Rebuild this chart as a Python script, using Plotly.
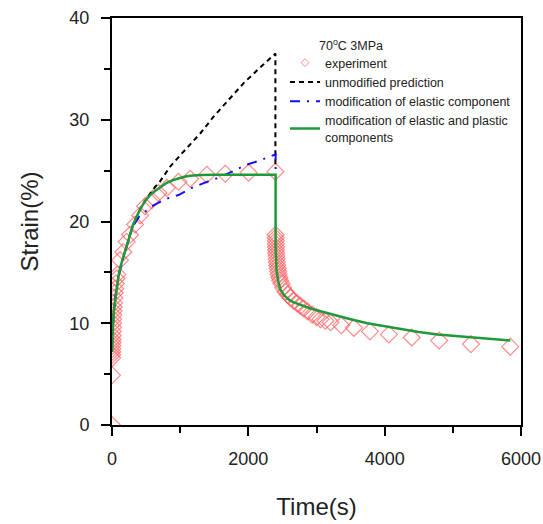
import plotly.graph_objects as go

# Experiment data
exp_t = [0, 0, 2, 3, 4, 5, 6, 7, 8, 10, 12, 14, 16, 18, 20, 23, 26, 30, 35, 40, 48, 56, 66, 78,
         118, 167, 215, 265, 338, 412, 485, 583, 681, 804, 975, 1147, 1392, 1662, 2004, 2397,
         2400, 2401, 2402, 2403, 2405, 2407, 2409, 2412, 2415, 2419, 2424, 2430, 2437, 2445, 2455,
         2466, 2485, 2510, 2545, 2580, 2618, 2665, 2716, 2765, 2813, 2870, 2936, 3000, 3059, 3130,
         3206, 3363, 3549, 3785, 4063, 4397, 4799, 5265, 5843]
exp_s = [0, 4.9, 6.6, 6.9, 7.2, 7.5, 7.8, 8.1, 8.4, 8.8, 9.2, 9.6, 10.0, 10.4, 10.8, 11.2, 11.6, 12.0, 12.5, 13.0, 13.4, 13.9, 14.4, 14.8,
         16.2, 17.0, 18.0, 18.7, 19.7, 20.6, 21.5, 22.1, 22.8, 23.3, 23.9, 24.2, 24.6, 24.7, 24.8, 24.9,
         18.7, 18.4, 18.1, 17.8, 17.5, 17.2, 16.9, 16.6, 16.3, 16.0, 15.7, 15.4, 15.1, 14.8, 14.5,
         14.2, 13.9, 13.5, 13.1, 12.8, 12.5, 12.2, 11.95, 11.7, 11.45, 11.15, 10.85, 10.6, 10.4, 10.25,
         10.1, 9.8, 9.55, 9.2, 8.9, 8.6, 8.3, 7.95, 7.7]

# Unmodified prediction
unmod_t = [0, 10, 29, 60, 93, 130, 167, 215, 265, 310, 363, 420, 485, 560, 632, 700, 755, 853, 1000, 1122, 1300, 1490, 1700, 1931, 2150, 2397, 2397]
unmod_s = [7.2, 9.5, 11.3, 13.2, 14.6, 15.7, 16.5, 17.7, 18.85, 19.7, 20.5, 21.3, 22.0, 22.7, 23.4, 23.9, 24.4, 25.4, 26.5, 27.4, 28.7, 30.3, 31.9, 33.6, 35.0, 36.5, 25.5]

# Modification of elastic component
elas_t = [0, 10, 29, 60, 93, 130, 167, 250, 314, 400, 500, 583, 700, 828, 975, 1172, 1392, 1539, 1760, 1980, 2128, 2348, 2400, 2400]
elas_s = [7.2, 9.5, 11.3, 13.2, 14.5, 15.6, 16.5, 18.3, 19.6, 20.5, 21.1, 21.5, 21.9, 22.3, 22.6, 23.3, 23.9, 24.25, 24.9, 25.6, 25.9, 26.45, 26.6, 24.5]

# Modification of elastic and plastic components
full_t = [0, 10, 29, 60, 93, 130, 167, 215, 265, 310, 363, 420, 485, 560, 632, 720, 804, 890, 975, 1060, 1147, 1300, 1500, 2400,
          2400, 2402, 2405, 2415, 2440, 2471, 2530, 2600, 2667, 2800, 2912, 3100, 3255, 3500, 3745, 4000, 4235, 4500, 4775, 5050, 5314, 5600, 5843]
full_s = [7.2, 9.5, 11.3, 13.2, 14.6, 15.7, 16.5, 17.7, 18.85, 19.7, 20.5, 21.3, 22.0, 22.6, 23.0, 23.45, 23.8, 24.05, 24.25, 24.4, 24.5, 24.58, 24.6, 24.6,
          17.5, 16.6, 15.9, 15.1, 14.1, 13.3, 12.7, 12.3, 12.05, 11.7, 11.45, 11.1, 10.8, 10.4, 10.0, 9.7, 9.4, 9.15, 8.9, 8.75, 8.6, 8.45, 8.3]

FONT = "Liberation Sans, Arial"
RED = "rgba(255,90,90,0.7)"

fig = go.Figure()
fig.add_trace(go.Scatter(x=exp_t, y=exp_s, mode="markers", name="experiment", showlegend=False,
                         marker=dict(symbol="diamond-open", size=13, color=RED,
                                     line=dict(width=1.2, color=RED))))
# legend-only entry with small symbol, as in the reference legend
fig.add_trace(go.Scatter(x=[None], y=[None], mode="markers", name="experiment",
                         marker=dict(symbol="diamond-open", size=6, color=RED,
                                     line=dict(width=1, color=RED))))
fig.add_trace(go.Scatter(x=unmod_t, y=unmod_s, mode="lines", name="unmodified prediction",
                         line=dict(color="black", width=2, dash="5px,4px")))
fig.add_trace(go.Scatter(x=elas_t, y=elas_s, mode="lines", name="modification of elastic component",
                         line=dict(color="#1010ee", width=2, dash="10px,7px,2px,7px")))
fig.add_trace(go.Scatter(x=full_t, y=full_s, mode="lines", name="modification of elastic and plastic<br>components",
                         line=dict(color="#1f9a3a", width=2.5)))

axis_common = dict(showline=True, linecolor="black", linewidth=2, mirror=True,
                   ticks="outside", tickcolor="black", tickwidth=2, ticklen=9,
                   showgrid=False, zeroline=False, automargin=False,
                   tickfont=dict(family=FONT, size=18, color="#222"))

fig.update_xaxes(range=[0, 6000], tickvals=[0, 2000, 4000, 6000],
                 minor=dict(dtick=1000, ticks="outside", ticklen=6, tickcolor="black", tickwidth=2),
                 title=dict(text="Time(s)", font=dict(family=FONT, size=24, color="#222"), standoff=31),
                 ticklabelstandoff=7, **axis_common)
fig.update_yaxes(range=[0, 40], tickvals=[0, 10, 20, 30, 40],
                 minor=dict(dtick=5, ticks="outside", ticklen=6, tickcolor="black", tickwidth=2),
                 title=dict(text="Strain(%)", font=dict(family=FONT, size=24, color="#222"), standoff=24),
                 ticklabelstandoff=8, **axis_common)

fig.add_annotation(text="70<sup>o</sup>C 3MPa", xref="paper", yref="paper",
                   x=(385 - 112) / 409, y=(425 - 55) / 407, yanchor="bottom", showarrow=False,
                   font=dict(family=FONT, size=12.5, color="#222"))

fig.update_layout(
    width=543, height=524,
    margin=dict(l=112, r=22, t=18, b=99),
    plot_bgcolor="white", paper_bgcolor="white",
    legend=dict(x=(285 - 112) / 409, y=(425 - 48) / 407, xanchor="left", yanchor="top",
                bgcolor="rgba(0,0,0,0)", tracegroupgap=0, itemwidth=30,
                font=dict(family=FONT, size=12.5, color="#222")),
)

fig.write_html("out.html")
